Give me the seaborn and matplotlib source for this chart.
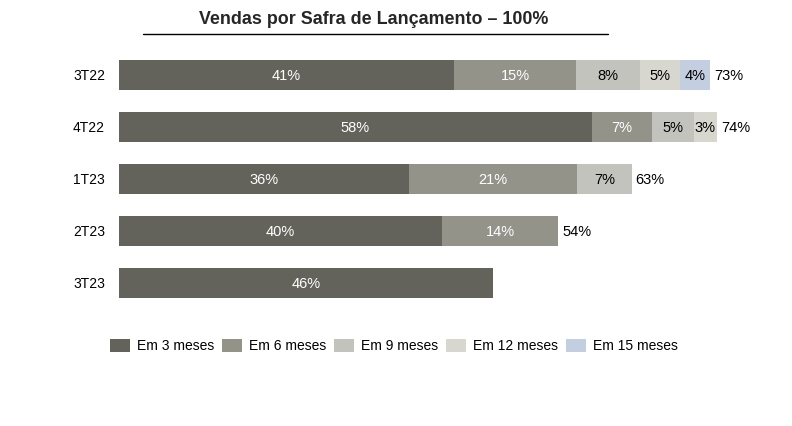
import numpy as np
import pandas as pd
import matplotlib
matplotlib.use("Agg")
import matplotlib.pyplot as plt
import seaborn as sns
from matplotlib.patches import Patch
from matplotlib.lines import Line2D

safras = ["3T22", "4T22", "1T23", "2T23", "3T23"]
series_names = ["Em 3 meses", "Em 6 meses", "Em 9 meses", "Em 12 meses", "Em 15 meses"]
# segment sizes (% of launch)
em3 = [41.1, 58.0, 35.6, 39.6, 45.9]
em6 = [15.0, 7.4, 20.6, 14.3, 0]
em9 = [7.8, 5.1, 6.7, 0, 0]
em12 = [4.9, 2.9, 0, 0, 0]
em15 = [3.7, 0, 0, 0, 0]
totais = ["73%", "74%", "63%", "54%", None]
colors = ["#64635b", "#94938a", "#c3c3bd", "#d7d7cf", "#c3cee0"]
text_colors = ["white", "white", "black", "black", "black"]

sns.set_theme(style="white")
plt.rcParams["font.family"] = ["Liberation Sans", "DejaVu Sans"]

values = np.array([em3, em6, em9, em12, em15], dtype=float)
cum = values.cumsum(axis=0)

fig = plt.figure(figsize=(7.92, 4.26), dpi=100)
ax = fig.add_axes([119 / 792, 1 - 309 / 426, 652 / 792, 260 / 426])

# draw stacked bars from the outermost layer inward
for k in range(len(series_names) - 1, -1, -1):
    df = pd.DataFrame({"safra": safras, "valor": cum[k]})
    sns.barplot(data=df, x="valor", y="safra", color=colors[k], width=0.57,
                saturation=1, ax=ax, orient="h", edgecolor="none")

for i in range(len(safras)):
    for k in range(len(series_names)):
        v = values[k, i]
        if v <= 0:
            continue
        center = cum[k, i] - v / 2
        ax.text(center, i, f"{round(v)}%", ha="center", va="center_baseline",
                fontsize=10.5, color=text_colors[k])
    if totais[i]:
        ax.text(cum[-1, i] + 0.5, i, totais[i], ha="left", va="center_baseline",
                fontsize=10.5, color="black")

ax.set_xlim(0, 80)
ax.set_ylim(4.5, -0.5)
ax.set_xlabel("")
ax.set_ylabel("")
ax.set_xticks([])
ax.tick_params(axis="y", length=0, labelsize=10, pad=10, labelcolor="black")
for s in ax.spines.values():
    s.set_visible(False)

fig.text(374 / 792, 1 - 20 / 426, "Vendas por Safra de Lançamento – 100%",
         ha="center", va="center", fontsize=12.9, fontweight="bold")
fig.add_artist(Line2D([143 / 792, 608 / 792], [1 - 34 / 426, 1 - 34 / 426],
                      color="black", linewidth=1))

handles = [Patch(facecolor=c, edgecolor="none") for c in colors]
fig.legend(handles, series_names, loc="center", ncol=5,
           bbox_to_anchor=(394 / 792, 1 - 346 / 426), frameon=False,
           fontsize=10, handlelength=1.45, handleheight=1.1,
           handletextpad=0.5, columnspacing=0.55, labelcolor="black")

fig.savefig("out.png", dpi=100, facecolor="white")
